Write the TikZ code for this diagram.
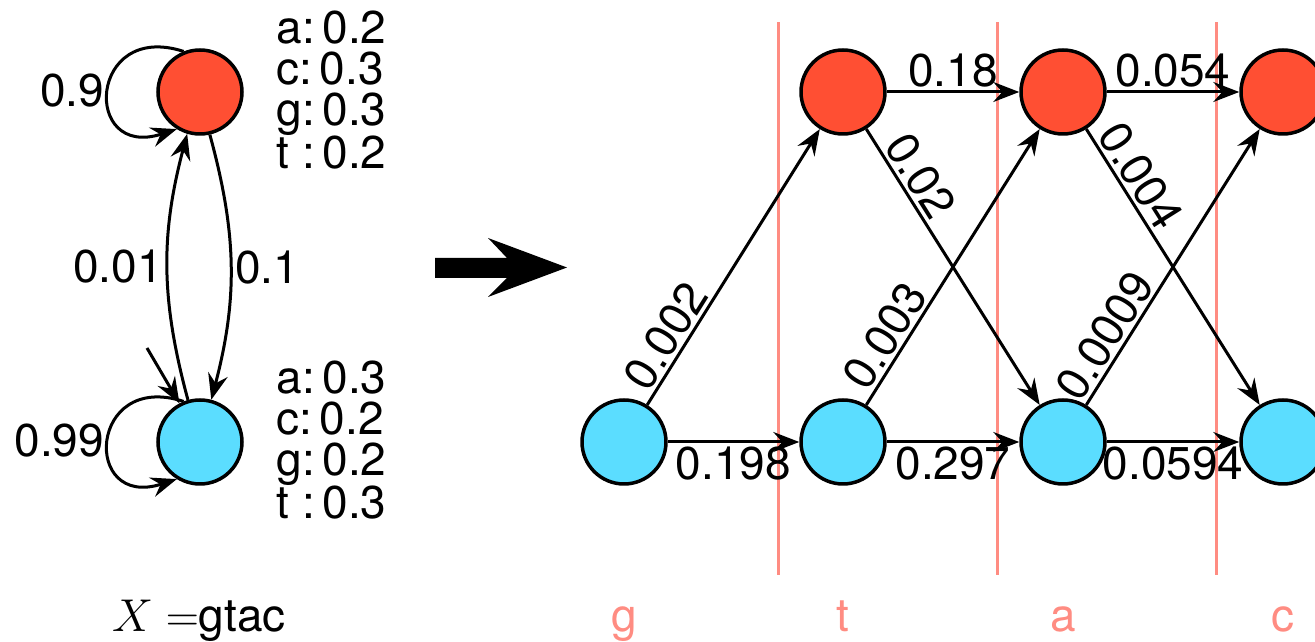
\RequirePackage{fix-cm}
\documentclass[tikz,border=0pt]{standalone}
\usepackage{fontspec}
\setsansfont{TeX Gyre Heros}
\usetikzlibrary{arrows.meta,positioning}
\definecolor{statered}{HTML}{FF4F33}
\definecolor{stateblue}{HTML}{5BDDFF}
\definecolor{gridpink}{HTML}{FF8C82}

\begin{document}
\begin{tikzpicture}[x=1pt,y=1pt,>={Stealth[length=26pt,width=20pt,inset=9pt]},
    font=\sffamily\fontsize{46}{41}\selectfont,line width=3pt,
    hstate/.style={circle,draw,line width=3.5pt,minimum size=84pt,inner sep=0pt},
    lbl/.style={inner sep=3pt}]
  \useasboundingbox (0,0) rectangle (1315,642);
  % model on the left
  \node[hstate,fill=statered] (hr) at (200,550) {};
  \node[hstate,fill=stateblue] (hb) at (200,200) {};
  \node[anchor=west,align=left,inner sep=0pt] (er) at (275,552)
    {a:\,0.2\\c:\,0.3\\g:\,0.3\\t :\,0.2};
  \node[anchor=west,align=left,inner sep=0pt] (eb) at (275,202)
    {a:\,0.3\\c:\,0.2\\g:\,0.2\\t :\,0.3};
  \draw[->] (hr.112) to[out=162,in=198,looseness=3.3]
    node[lbl,left] {0.9} (hr.238);
  \draw[->] (hb.112) to[out=162,in=198,looseness=3.3]
    node[lbl,left] {0.99} (hb.238);
  \draw[->] (hr.283) to[bend left=15] node[lbl,right] {0.1} (hb.75);
  \draw[->] (hb.106) to[bend left=15] node[lbl,left] {0.01} (hr.253);
  \coordinate (init) at (147,294);
  \draw[->] (init) -- (hb.118);
  \node[anchor=base] (word) at (199,10) {$X =$gtac};
  % big arrow
  \fill (435,384) -- (507,384) -- (488,404) -- (567,374.5)
    -- (488,345) -- (507,364) -- (435,364) -- cycle;
  % trellis
  \foreach \x in {778,997,1216}
    \draw[gridpink] (\x,67) -- (\x,620);
  \foreach \i/\x/\s in {1/624/g,2/843/t,3/1063/a,4/1283/c}{
    \node[hstate,fill=stateblue] (b\i) at (\x,200) {};
    \node[anchor=base,text=gridpink] (s\i) at (\x,10) {\s};
  }
  \foreach \i/\x in {2/843,3/1063,4/1283}
    \node[hstate,fill=statered] (r\i) at (\x,550) {};
  \draw[->] (b1) -- node[lbl,below] {0.198} (b2);
  \draw[->] (b2) -- node[lbl,below] {0.297} (b3);
  \draw[->] (b3) -- node[lbl,below] {0.0594} (b4);
  \draw[->] (r2) -- node[lbl,above] {0.18} (r3);
  \draw[->] (r3) -- node[lbl,above] {0.054} (r4);
  \draw[->] (b1) -- node[lbl,sloped,above,pos=0.21] {0.002} (r2);
  \draw[->] (b2) -- node[lbl,sloped,above,pos=0.21] {0.003} (r3);
  \draw[->] (b3) -- node[lbl,sloped,above,pos=0.21] {0.0009} (r4);
  \draw[->] (r2) -- node[lbl,sloped,above,pos=0.21] {0.02} (b3);
  \draw[->] (r3) -- node[lbl,sloped,above,pos=0.21] {0.004} (b4);
\end{tikzpicture}
\end{document}
